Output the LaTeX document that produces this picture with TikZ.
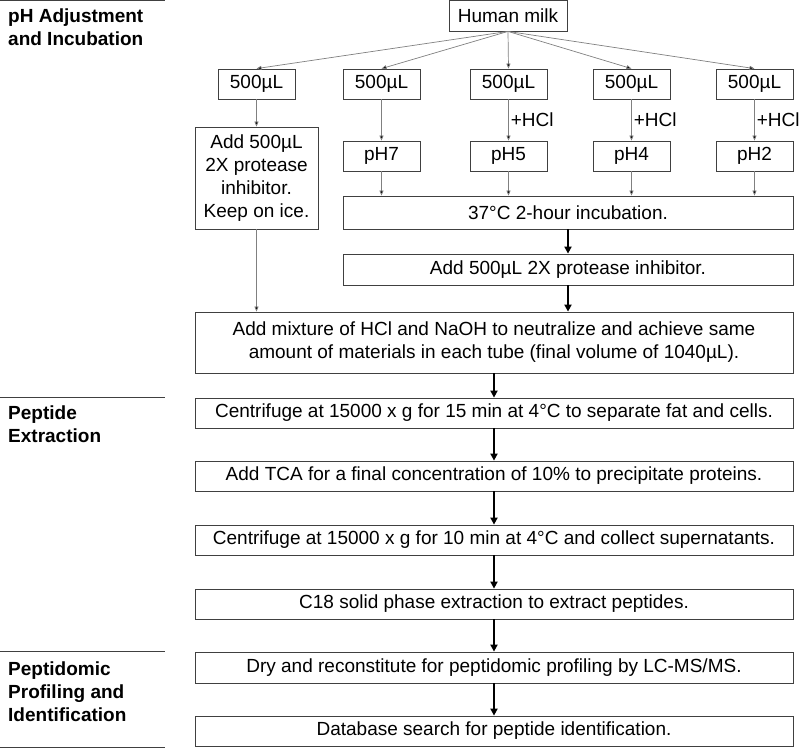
\documentclass[tikz,border=0pt]{standalone}
\usepackage{fontspec}
\setmainfont{Liberation Sans}
\usetikzlibrary{arrows.meta}
\newcommand{\fsz}{\fontsize{19}{23}\selectfont}
\tikzset{
  box/.style={draw=black!75, line width=0.8pt, inner sep=0pt, align=center, font=\fsz},
  thin/.style={draw=black!50, line width=0.7pt, -{Triangle[length=5pt,width=4pt,fill=black]}},
  thick/.style={draw=black, line width=2pt, -{Triangle[length=7pt,width=7pt]}},
  sect/.style={anchor=north west, align=left, inner sep=0pt, font=\fsz\bfseries},
  sepline/.style={draw=black!75, line width=0.8pt},
  lbl/.style={anchor=west, inner sep=0pt, font=\fsz}
}
\begin{document}
\begin{tikzpicture}[x=1pt,y=-1pt]
\useasboundingbox (0,0) rectangle (800,748);
% section separators
\coordinate (s0a) at (0,0.5); \coordinate (s0b) at (165,0.5);
\coordinate (s1a) at (0,397); \coordinate (s1b) at (165,397);
\coordinate (s2a) at (0,651); \coordinate (s2b) at (165,651);
\coordinate (s3a) at (0,747); \coordinate (s3b) at (165,747);
\draw[sepline] (s0a) -- (s0b);
\draw[sepline] (s1a) -- (s1b);
\draw[sepline] (s2a) -- (s2b);
\draw[sepline] (s3a) -- (s3b);
\node[sect] (t1) at (8,9) {pH Adjustment\\and Incubation};
\node[sect] (t2) at (8,406) {Peptide\\Extraction};
\node[sect] (t3) at (8,662) {Peptidomic\\Profiling and\\Identification};
% top nodes
\node[box, minimum width=118pt, minimum height=31pt] (milk) at (508,15.5) {Human milk};
\foreach \n/\x in {v1/256.5,v2/381.5,v3/508.5,v4/631.5,v5/754.5}
  \node[box, minimum width=77pt, minimum height=30pt] (\n) at (\x,84) {500µL};
\foreach \n/\x/\t in {p7/381.5/pH7,p5/508.5/pH5,p4/631.5/pH4,p2/754.5/pH2}
  \node[box, minimum width=77pt, minimum height=30pt] (\n) at (\x,156) {\t};
\node[box, minimum width=123pt, minimum height=102pt] (inh) at (256.5,178) {Add 500µL\\2X protease\\inhibitor.\\Keep on ice.};
\node[box, minimum width=450pt, minimum height=33pt] (inc) at (568,212.5) {37°C 2-hour incubation.};
\node[box, minimum width=450pt, minimum height=31pt] (add) at (568,269.5) {Add 500µL 2X protease inhibitor.};
\node[box, minimum width=598pt, minimum height=61pt] (mix) at (494,342.5) {Add mixture of HCl and NaOH to neutralize and achieve same\\amount of materials in each tube (final volume of 1040µL).};
\node[box, minimum width=598pt, minimum height=30pt] (c1) at (494,413) {Centrifuge at 15000 x g for 15 min at 4°C to separate fat and cells.};
\node[box, minimum width=598pt, minimum height=30pt] (tca) at (494,476) {Add TCA for a final concentration of 10\% to precipitate proteins.};
\node[box, minimum width=598pt, minimum height=30pt] (c2) at (494,540) {Centrifuge at 15000 x g for 10 min at 4°C and collect supernatants.};
\node[box, minimum width=598pt, minimum height=30pt] (c18) at (494,604) {C18 solid phase extraction to extract peptides.};
\node[box, minimum width=598pt, minimum height=31pt] (dry) at (494,667.5) {Dry and reconstitute for peptidomic profiling by LC-MS/MS.};
\node[box, minimum width=598pt, minimum height=30pt] (db) at (494,731) {Database search for peptide identification.};
% thin arrows
\foreach \n in {v1,v2,v3,v4,v5} \draw[thin] (milk.south) -- (\n.north);
\draw[thin] (v1) -- (inh);
\draw[thin] (v2) -- (p7);
\draw[thin] (v3) -- node[lbl, right=2pt] (h1) {+HCl} (p5);
\draw[thin] (v4) -- node[lbl, right=2pt] (h2) {+HCl} (p4);
\draw[thin] (v5) -- node[lbl, right=2pt] (h3) {+HCl} (p2);
\foreach \n in {p7,p5,p4,p2} \draw[thin] (\n.south) -- (\n.south |- inc.north);
\draw[thin] (inh.south) -- (inh.south |- mix.north);
% thick arrows
\draw[thick] (inc) -- (add);
\draw[thick] (add) -- (add.south |- mix.north);
\draw[thick] (mix) -- (c1);
\draw[thick] (c1) -- (tca);
\draw[thick] (tca) -- (c2);
\draw[thick] (c2) -- (c18);
\draw[thick] (c18) -- (dry);
\draw[thick] (dry) -- (db);
\end{tikzpicture}
\end{document}
